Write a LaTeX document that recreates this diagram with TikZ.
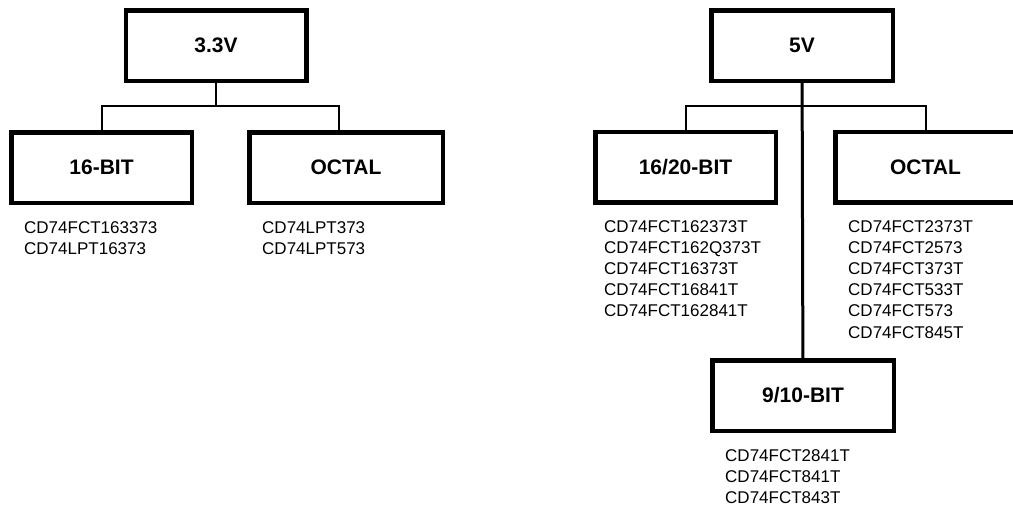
\documentclass[tikz,border=0pt]{standalone}
\usepackage{fontspec}
\setmainfont{Liberation Sans}
\tikzset{
  family/.style={rectangle,draw=black,line width=4.5pt,minimum width=180.5pt,minimum height=70.5pt,inner sep=0pt,font=\fontsize{21}{24}\selectfont\bfseries},
  partlist/.style={anchor=north west,inner sep=0pt,align=left,font=\fontsize{17}{21.2}\selectfont},
  link/.style={line width=2pt},
  trunk/.style={line width=3pt}
}
\begin{document}
\begin{tikzpicture}[x=1pt,y=-1pt]
    \useasboundingbox (0,0) rectangle (1013,507);

    % 3.3V tree
    \node[family] (v33) at (216,45.5) {3.3V};
    \node[family] (bit16) at (101.5,167.5) {16-BIT};
    \node[family,minimum width=193.5pt] (octL) at (346,167.5) {OCTAL};
    \coordinate (j33) at (216,105.5);
    \draw[link] (v33) -- (j33);
    \draw[link] (bit16.north) |- (j33) -| ([xshift=-7pt]octL.north);

    \node[partlist] (listA) at (24,221) {CD74FCT163373\\CD74LPT16373};
    \node[partlist] (listB) at (262,221) {CD74LPT373\\CD74LPT573};

    % 5V tree
    \node[family,minimum width=181.5pt] (v5) at (802,45.5) {5V};
    \node[family] (bit1620) at (685.5,167) {16/20-BIT};
    \node[family] (octR) at (925.5,167) {OCTAL};
    \node[family,minimum width=181.5pt] (bit910) at (803,395.5) {9/10-BIT};
    \coordinate (j5) at (803,106);
    \draw[link] (bit1620.north) |- (j5) -| (octR.north);
    \draw[trunk] (v5) -- (bit910);

    \node[partlist] (listC) at (604,220) {CD74FCT162373T\\CD74FCT162Q373T\\CD74FCT16373T\\CD74FCT16841T\\CD74FCT162841T};
    \node[partlist] (listD) at (848,220) {CD74FCT2373T\\CD74FCT2573\\CD74FCT373T\\CD74FCT533T\\CD74FCT573\\CD74FCT845T};
    \node[partlist] (listE) at (725,449) {CD74FCT2841T\\CD74FCT841T\\CD74FCT843T};
\end{tikzpicture}
\end{document}
